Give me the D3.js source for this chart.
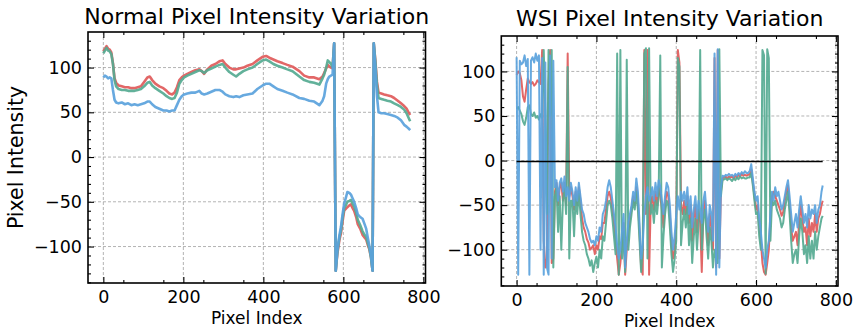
<!DOCTYPE html>
<html><head><meta charset="utf-8">
<script src="https://cdn.jsdelivr.net/npm/d3@7"></script>
<style>body{margin:0;background:#fff}svg{display:block;font-family:"DejaVu Sans",sans-serif}</style>
</head><body><svg id="c" width="856" height="331"></svg>
<script>
// ---------- data ----------
const xTicks = [0, 200, 400, 600, 800];
const yTicks = [-100, -50, 0, 50, 100];
const titles = ["Normal Pixel Intensity Variation", "WSI Pixel Intensity Variation"];

// Normal panel: pixel index samples and channel values
const normalIdx = [0,4,8,12,16,20,24,28,32,38,46,54,62,70,78,86,94,102,110,116,122,130,140,150,158,165,172,178,184,190,196,202,210,220,230,240,246,252,260,270,280,290,298,305,315,325,332,340,350,360,373,385,398,407,415,425,435,448,460,473,490,502,515,527,540,548,552,557,561,565,569,573,577,581,585,590,594,598,602,606,610,615,619,623,627,632,636,642,648,653,657,661,665,669,673,676,680,684,688,695,702,710,719,727,736,744,752,758,763,767];
const normalRed = [118,121,124,121,120,117,105,88,83,80,79,78,78,77,77,78,79,84,89,90,86,82,79,77,74,71,70,72,78,86,89,91,93,95,97,98,96,93,98,102,104,107,108,104,100,98,98,99,100,102,104,108,112,113,111,109,107,105,103,101,96,91,89,89,87,90,94,99,103,101,100,99,127,-127,-108,-93,-85,-72,-60,-58,-56,-54,-53,-57,-60,-67,-75,-80,-87,-90,-92,-98,-103,-112,-127,127,108,84,72,71,70,69,68,66,63,60,57,54,50,47];
const normalGreen = [116,119,122,119,118,115,104,86,79,76,75,75,74,74,74,75,76,79,83,84,80,77,74,71,68,66,65,66,72,82,86,89,91,93,95,97,96,94,97,99,101,103,104,100,95,92,90,93,96,98,100,104,108,109,107,104,102,100,98,96,90,86,84,83,81,88,92,100,108,106,104,100,127,-127,-106,-90,-82,-68,-57,-54,-50,-49,-48,-52,-55,-62,-70,-76,-83,-87,-89,-96,-102,-112,-127,127,106,80,66,65,64,63,62,60,58,56,53,49,44,40];
const normalBlue = [89,91,90,88,89,88,75,64,61,60,61,59,60,58,59,58,59,60,62,62,59,56,54,52,52,51,52,52,58,64,68,70,71,72,72,74,71,70,71,73,75,75,73,70,68,67,68,67,69,70,71,76,80,82,82,79,76,74,72,70,66,65,63,62,58,63,68,82,87,90,91,92,127,-127,-104,-88,-78,-64,-52,-46,-39,-40,-42,-46,-50,-57,-64,-67,-69,-75,-80,-90,-99,-110,-127,127,100,68,50,49,49,48,47,46,44,41,36,34,32,30];

// WSI panel: pixel index samples every 4 px (plus last pixel) and channel values
const wsiIdx = d3.range(0, 765, 4).concat([767]);
const wsiRed = [
 96,100,98,90,72,66,80,92,88,86,
 88,84,86,90,88,86,124,-90,-120,-110,
 86,124,-115,-110,-35,-25,-50,-30,-25,-45,
 -25,-50,120,-40,-30,-40,-55,-35,-50,-30,
 -45,-65,-75,-80,-88,-92,-100,-98,-95,-105,
 -95,-100,-85,-88,-70,-70,-55,-40,-35,-42,
 -55,-70,-90,-110,-128,-115,-95,-70,-128,-100,
 -80,-65,-55,-40,-50,-30,-45,-80,-120,-128,
 124,-60,124,-128,-50,-40,-55,-35,-50,-30,
 -40,-55,-75,-50,-35,-40,-60,-95,-110,-100,
 -75,124,110,-50,-60,-45,-60,-40,-70,-50,
 -90,-65,-50,-80,-55,-70,-125,-55,-45,-70,
 -95,-60,-75,-100,115,-120,124,-110,-35,-20,
 -19,-18,-20,-18,-19,-18,-20,-17,-19,-16,
 -18,-15,-17,-16,-17,-16,-16,-10,-25,-40,
 -55,-50,-75,-90,-115,-125,-128,-115,-100,-65,
 -40,-35,-40,-45,-50,-55,-62,-58,-45,-35,
 -28,-50,-75,-90,-85,-80,-95,-70,-50,-65,
 -80,-75,-95,-65,-85,-70,-80,-60,-80,-65,
 -60,-50,-45];
const wsiGreen = [
 58,60,56,52,44,40,48,60,62,52,
 50,54,48,50,46,52,48,124,52,-60,
 124,50,124,-120,-40,-30,-80,-40,-100,-45,
 -30,-60,105,-110,-45,-45,-85,-40,-60,-35,
 -60,-80,-90,-95,-105,-110,-118,-112,-125,-115,
 -108,-120,-100,-110,-85,-90,-70,-50,-45,-50,
 -65,-85,-105,120,-128,124,-110,-80,-125,113,
 -100,-75,-60,-45,-55,-35,-55,-90,-125,-100,
 120,126,-110,126,-60,-50,-70,-45,-60,-40,
 118,-120,-85,-60,-45,-50,-75,-105,-125,-110,
 -90,115,105,-95,-70,-55,-75,-50,-95,-65,
 -115,-85,-65,-100,-70,124,-100,-65,-55,-85,
 -110,-75,-90,-120,-100,-110,-115,125,-40,-22,
 -21,-20,-22,-20,-21,-23,-20,-22,-19,-21,
 -18,-20,-19,-20,-20,-19,-19,-14,-28,-45,
 -60,-58,-85,-100,124,118,-127,125,115,-90,
 -45,-50,-45,-55,-60,-65,-75,-70,-55,-45,
 -35,-60,-90,-115,-105,-100,-115,-85,-65,-80,
 -105,-95,-115,-85,-110,-90,-110,-80,-100,-85,
 -75,-65,-62];
const wsiBlue = [
 116,-128,112,108,110,118,106,114,-128,112,
 116,110,120,112,118,-100,115,-128,110,-120,
 -128,118,-110,112,-30,-22,-45,-25,-20,-35,
 -18,-40,-30,-45,-25,-35,-50,-30,-45,-25,
 -40,-55,-60,-70,-75,-80,-88,-92,-90,-95,
 -85,-90,-75,-80,-60,-55,-45,-30,-22,-30,
 -45,-60,-75,-95,-110,-100,-80,-60,-120,-90,
 -70,-60,-50,-35,-45,-20,-35,-70,-110,-95,
 -60,-40,-30,-45,-40,-30,-45,-25,-40,-22,
 -30,-45,-60,-40,-25,-30,-50,-80,-100,-85,
 -60,-40,-55,-35,-45,-35,-50,-30,-60,-40,
 -75,-55,-40,-65,-45,-55,-70,-45,-35,-60,
 -80,-50,-60,-90,120,-128,125,-120,-30,-17,
 -18,-16,-17,-15,-17,-16,-18,-15,-17,-14,
 -16,-13,-15,-12,-14,-14,-12,-4,-20,-35,
 -45,-40,-65,-80,-100,-110,-120,-100,-90,-60,
 -35,-45,-30,-40,-35,-45,-55,-50,-40,-30,
 -22,-40,-60,-80,-70,-60,-75,-55,-40,-55,
 -70,-60,-75,-50,-65,-55,-60,-50,-70,-55,
 -50,-35,-28];
const wsiAlphaIdx = [0, 767];
const wsiAlpha = [-1, -1];

// ---------- drawing ----------
const svg = d3.select("#c");
const colors = {r: "#e05a5a", g: "#55aa91", b: "#5aa2dc", a: "#000000"};
const xDomain = [-38.35, 805.35];
const yDomain = [-140.75, 139.75];

function panel(box, title, series, yLabel, clipId) {
  const x = d3.scaleLinear().domain(xDomain).range([box.x0, box.x1]);
  const y = d3.scaleLinear().domain(yDomain).range([box.y1, box.y0]);
  const g = svg.append("g");

  const grid = g.append("g").attr("stroke", "#a0a0a0").attr("stroke-width", 0.8).attr("stroke-dasharray", "3,2");
  xTicks.forEach(t => grid.append("line").attr("x1", x(t)).attr("x2", x(t)).attr("y1", box.y0).attr("y2", box.y1));
  yTicks.forEach(t => grid.append("line").attr("y1", y(t)).attr("y2", y(t)).attr("x1", box.x0).attr("x2", box.x1));

  svg.append("clipPath").attr("id", clipId).append("rect")
    .attr("x", box.x0).attr("y", box.y0).attr("width", box.x1 - box.x0).attr("height", box.y1 - box.y0);
  const dg = g.append("g").attr("clip-path", `url(#${clipId})`);
  series.forEach(s => {
    const line = d3.line().x((d, i) => x(s.idx[i])).y(d => y(d));
    dg.append("path").datum(s.vals).attr("d", line).attr("fill", "none")
      .attr("stroke", s.color).attr("stroke-width", s.w || 1.8)
      .attr("stroke-opacity", s.op || 0.92).attr("stroke-linejoin", "round");
  });

  const xMinor = d3.range(50, 800, 100);
  const yMinor = d3.range(-140, 140, 10).filter(v => v % 50 !== 0);
  const style = sel => { sel.select(".domain").remove(); sel.selectAll("line").attr("stroke", "#000").attr("stroke-width", 1.1); };
  g.append("g").attr("transform", `translate(0,${box.y1})`)
    .call(d3.axisBottom(x).tickValues(xTicks).tickSize(-6).tickPadding(8).tickFormat(d3.format("d")))
    .call(style).call(s => s.selectAll("text").attr("font-size", 17.5).attr("font-family", "DejaVu Sans").attr("fill", "#000"));
  g.append("g").attr("transform", `translate(0,${box.y1})`)
    .call(d3.axisBottom(x).tickValues(xMinor).tickSize(-3).tickFormat("")).call(style);
  g.append("g").attr("transform", `translate(0,${box.y0})`)
    .call(d3.axisTop(x).tickValues(xTicks).tickSize(-6).tickFormat("")).call(style);
  g.append("g").attr("transform", `translate(0,${box.y0})`)
    .call(d3.axisTop(x).tickValues(xMinor).tickSize(-3).tickFormat("")).call(style);
  g.append("g").attr("transform", `translate(${box.x0},0)`)
    .call(d3.axisLeft(y).tickValues(yTicks).tickSize(-6).tickPadding(6).tickFormat(d => d3.format("d")(d).replace("-", "\u2212")))
    .call(style).call(s => s.selectAll("text").attr("font-size", 17.5).attr("font-family", "DejaVu Sans").attr("fill", "#000"));
  g.append("g").attr("transform", `translate(${box.x0},0)`)
    .call(d3.axisLeft(y).tickValues(yMinor).tickSize(-3).tickFormat("")).call(style);
  g.append("g").attr("transform", `translate(${box.x1},0)`)
    .call(d3.axisRight(y).tickValues(yTicks).tickSize(-6).tickFormat("")).call(style);
  g.append("g").attr("transform", `translate(${box.x1},0)`)
    .call(d3.axisRight(y).tickValues(yMinor).tickSize(-3).tickFormat("")).call(style);

  g.append("rect").attr("x", box.x0).attr("y", box.y0).attr("width", box.x1 - box.x0).attr("height", box.y1 - box.y0)
    .attr("fill", "none").attr("stroke", "#000").attr("stroke-width", 1.6);

  const cx = (box.x0 + box.x1) / 2;
  g.append("text").attr("x", cx).attr("y", box.titleY).attr("text-anchor", "middle")
    .attr("font-size", 22).attr("fill", "#000").text(title);
  g.append("text").attr("x", cx).attr("y", box.xlabY).attr("text-anchor", "middle")
    .attr("font-size", 17).attr("fill", "#000").text("Pixel Index");
  if (yLabel) {
    g.append("text").attr("transform", `translate(23,${(box.y0 + box.y1) / 2}) rotate(-90)`)
      .attr("text-anchor", "middle").attr("font-size", 20.5).attr("fill", "#000").text(yLabel);
  }
}

panel({x0: 88, x1: 425.5, y0: 32, y1: 283, titleY: 23.5, xlabY: 324}, titles[0], [
  {idx: normalIdx, vals: normalRed, color: colors.r, w: 2.6},
  {idx: normalIdx, vals: normalGreen, color: colors.g, w: 2.6},
  {idx: normalIdx, vals: normalBlue, color: colors.b, w: 2.6}
], "Pixel Intensity", "clipL");

panel({x0: 501.3, x1: 838, y0: 36, y1: 286, titleY: 26, xlabY: 326.5}, titles[1], [
  {idx: wsiIdx, vals: wsiRed, color: colors.r, w: 2},
  {idx: wsiIdx, vals: wsiGreen, color: colors.g, w: 2},
  {idx: wsiIdx, vals: wsiBlue, color: colors.b, w: 2},
  {idx: wsiAlphaIdx, vals: wsiAlpha, color: colors.a, w: 1.6, op: 1}
], null, "clipR");
</script></body></html>
